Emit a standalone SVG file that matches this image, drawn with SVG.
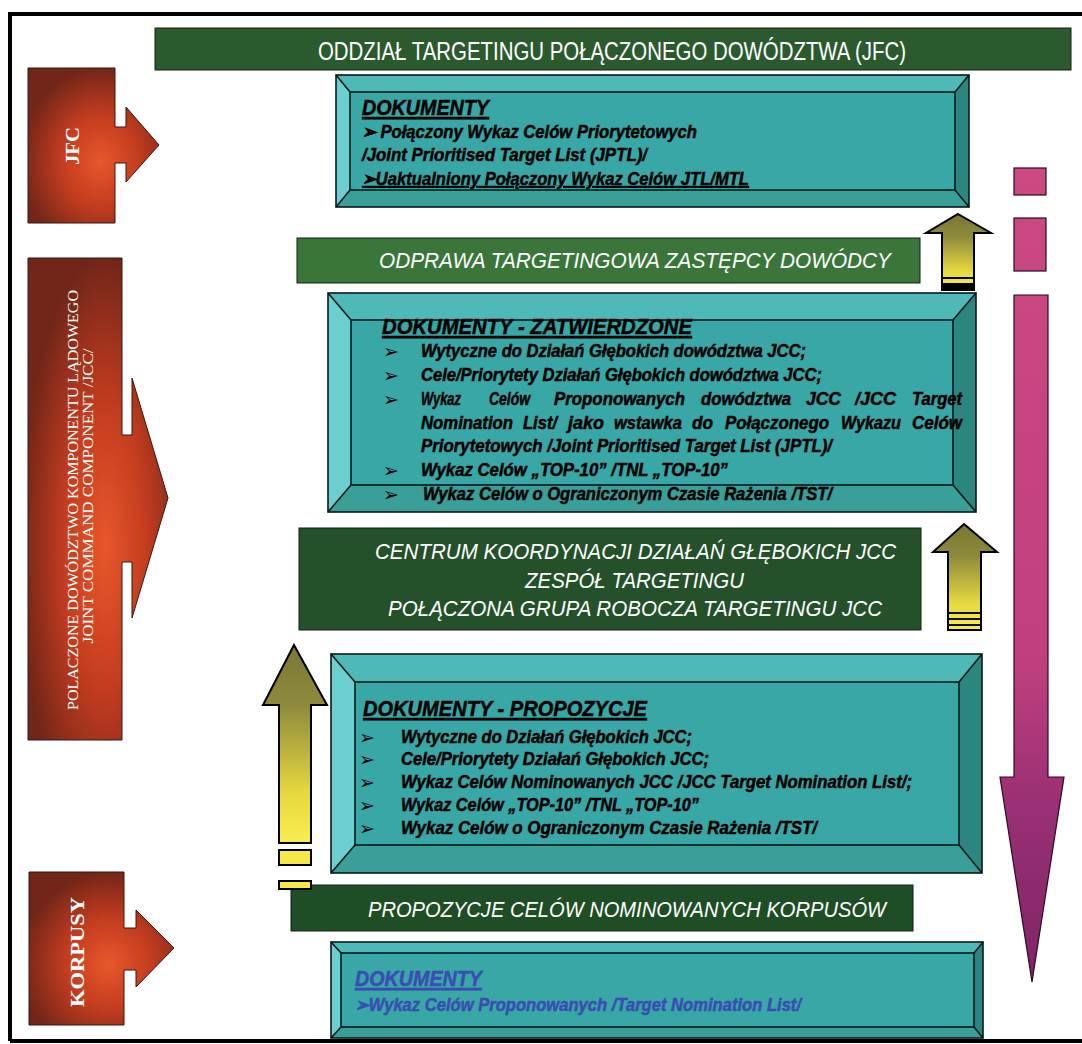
<svg xmlns="http://www.w3.org/2000/svg" width="1082" height="1044" viewBox="0 0 1082 1044">
<defs>
<radialGradient id="red" cx="0.55" cy="0.6" r="0.6">
<stop offset="0" stop-color="#e8572b"/>
<stop offset="0.5" stop-color="#c23c1f"/>
<stop offset="1" stop-color="#722619"/>
</radialGradient>
<linearGradient id="yel" x1="0" y1="0" x2="0" y2="1">
<stop offset="0" stop-color="#7a7634"/>
<stop offset="0.3" stop-color="#8e8a3c"/>
<stop offset="0.75" stop-color="#e6d840"/>
<stop offset="1" stop-color="#f8ee50"/>
</linearGradient>
<linearGradient id="mag" gradientUnits="userSpaceOnUse" x1="0" y1="168" x2="0" y2="982">
<stop offset="0" stop-color="#cc4a82"/>
<stop offset="0.6" stop-color="#c0407e"/>
<stop offset="0.78" stop-color="#9a3074"/>
<stop offset="1" stop-color="#7e2466"/>
</linearGradient>
<style>
.bt{fill:#4fb9b8}.bl{fill:#6ccfcf}.br{fill:#2b8680}.bb{fill:#3a9e99}.bf{fill:#38a7a6}
.bo{fill:none;stroke:#0a1a1a;stroke-width:1.6}
.doc{font-family:"Liberation Sans",Arial,sans-serif;font-weight:bold;font-style:italic;font-size:18px;fill:#000;stroke:#000;stroke-width:0.5}
.hdr{font-size:22px;text-decoration:underline}
.blt{font-family:"DejaVu Sans",sans-serif;font-size:19px;font-weight:bold;fill:#000}
.ban{font-family:"Liberation Sans",Arial,sans-serif;fill:#fff;font-size:22px;font-style:italic}
.side{font-family:"Liberation Serif","Times New Roman",serif;fill:#fff}
.gb{stroke:#102010;stroke-width:1}
.arr{fill:url(#red);stroke:#3a160e;stroke-width:1}
.ya{fill:url(#yel);stroke:#000;stroke-width:2}
.mg{fill:url(#mag);stroke:#2a0a20;stroke-width:1.2}
.blue{fill:#3a4db2;stroke:#3a4db2}
</style>
</defs>
<rect width="1082" height="1044" fill="#fff"/>
<path d="M10,1041 V14 H1082 M10,1041 H1082" fill="none" stroke="#000" stroke-width="4"/>

<g id="banner-top">
<rect x="155" y="28" width="916" height="42" fill="#2c5a2f" class="gb"/>
<text x="318" y="60" font-family="Liberation Sans, Arial, sans-serif" font-size="25" fill="#fff" textLength="588" lengthAdjust="spacingAndGlyphs">ODDZIAŁ TARGETINGU POŁĄCZONEGO DOWÓDZTWA (JFC)</text>
</g>

<g id="jfc">
<path class="arr" d="M28,68 H115 V127 H126 V107 L159,145 L126,182 V163 H115 V223 H28 Z"/>
<text class="side" transform="translate(73,146) rotate(-90)" text-anchor="middle" dominant-baseline="central" font-size="18" font-weight="bold" textLength="38" lengthAdjust="spacingAndGlyphs">JFC</text>
</g>

<g id="jcc">
<path class="arr" d="M28,258 H122 V435 H132 V378 L168,498 L132,618 V562 H122 V740 H28 Z"/>
<text class="side" transform="translate(73,500) rotate(-90)" text-anchor="middle" dominant-baseline="central" font-size="14" fill="#f6e8de" textLength="420" lengthAdjust="spacingAndGlyphs">POLACZONE DOWÓDZTWO KOMPONENTU LĄDOWEGO</text>
<text class="side" transform="translate(88,496) rotate(-90)" text-anchor="middle" dominant-baseline="central" font-size="14" fill="#f6e8de" textLength="295" lengthAdjust="spacingAndGlyphs">JOINT COMMAND COMPONENT /JCC/</text>
</g>

<g id="korpusy">
<path class="arr" d="M29,872 H124 V928 H136 V910 L174,948 L136,987 V970 H124 V1025 H29 Z"/>
<text class="side" transform="translate(77,952) rotate(-90)" text-anchor="middle" dominant-baseline="central" font-size="19" font-weight="bold" textLength="110" lengthAdjust="spacingAndGlyphs">KORPUSY</text>
</g>

<g id="doc-jfc">
<polygon class="bt" points="336,75 969,75 955,92 350,92"/>
<polygon class="bl" points="336,75 350,92 350,190 336,207"/>
<polygon class="br" points="969,75 969,207 955,190 955,92"/>
<polygon class="bb" points="336,207 350,190 955,190 969,207"/>
<rect class="bf" x="350" y="92" width="605" height="98"/>
<rect class="bo" x="336" y="75" width="633" height="132"/>
<rect class="bo" x="350" y="92" width="605" height="98"/>
<path class="bo" d="M336,75 L350,92 M969,75 L955,92 M336,207 L350,190 M969,207 L955,190"/>
<text class="doc hdr" x="362" y="115" textLength="127" lengthAdjust="spacingAndGlyphs">DOKUMENTY</text>
<text class="doc" x="362" y="138" textLength="335" lengthAdjust="spacingAndGlyphs">➢ Połączony Wykaz Celów Priorytetowych</text>
<text class="doc" x="362" y="161" textLength="285" lengthAdjust="spacingAndGlyphs">/Joint Prioritised Target List  (JPTL)/</text>
<text class="doc" x="362" y="185" text-decoration="underline" textLength="387" lengthAdjust="spacingAndGlyphs">➢Uaktualniony Połączony Wykaz Celów JTL/MTL</text>
</g>

<g id="banner-odprawa">
<rect x="297" y="238" width="623" height="45" fill="#3a763a" class="gb"/>
<text class="ban" x="379" y="268" textLength="512" lengthAdjust="spacingAndGlyphs">ODPRAWA TARGETINGOWA  ZASTĘPCY DOWÓDCY</text>
</g>

<g id="doc-zatwierdzone">
<polygon class="bt" points="328,293 976,293 953,320 351,320"/>
<polygon class="bl" points="328,293 351,320 351,485 328,512"/>
<polygon class="br" points="976,293 976,512 953,485 953,320"/>
<polygon class="bb" points="328,512 351,485 953,485 976,512"/>
<rect class="bf" x="351" y="320" width="602" height="165"/>
<rect class="bo" x="328" y="293" width="648" height="219"/>
<rect class="bo" x="351" y="320" width="602" height="165"/>
<path class="bo" d="M328,293 L351,320 M976,293 L953,320 M328,512 L351,485 M976,512 L953,485"/>
<text class="doc hdr" x="382" y="334" font-size="21" textLength="310" lengthAdjust="spacingAndGlyphs">DOKUMENTY - ZATWIERDZONE</text>
<text class="blt" x="383" y="358">➢</text>
<text class="blt" x="383" y="382">➢</text>
<text class="blt" x="383" y="406">➢</text>
<text class="blt" x="383" y="477">➢</text>
<text class="blt" x="383" y="501">➢</text>
<text class="doc" x="421" y="357" textLength="385" lengthAdjust="spacingAndGlyphs">Wytyczne do Działań Głębokich dowództwa JCC;</text>
<text class="doc" x="421" y="381" textLength="401" lengthAdjust="spacingAndGlyphs">Cele/Priorytety Działań Głębokich dowództwa JCC;</text>
<g class="doc">
<text x="421" y="405" textLength="40" lengthAdjust="spacingAndGlyphs">Wykaz</text>
<text x="489" y="405" textLength="41" lengthAdjust="spacingAndGlyphs">Celów</text>
<text x="554" y="405" textLength="131" lengthAdjust="spacingAndGlyphs">Proponowanych</text>
<text x="701" y="405" textLength="90" lengthAdjust="spacingAndGlyphs">dowództwa</text>
<text x="806" y="405" textLength="35" lengthAdjust="spacingAndGlyphs">JCC</text>
<text x="855" y="405" textLength="41" lengthAdjust="spacingAndGlyphs">/JCC</text>
<text x="912" y="405" textLength="50" lengthAdjust="spacingAndGlyphs">Target</text>
<text x="421" y="429" textLength="92" lengthAdjust="spacingAndGlyphs">Nomination</text>
<text x="523" y="429" textLength="34" lengthAdjust="spacingAndGlyphs">List/</text>
<text x="568" y="429" textLength="36" lengthAdjust="spacingAndGlyphs">jako</text>
<text x="614" y="429" textLength="68" lengthAdjust="spacingAndGlyphs">wstawka</text>
<text x="692" y="429" textLength="21" lengthAdjust="spacingAndGlyphs">do</text>
<text x="725" y="429" textLength="104" lengthAdjust="spacingAndGlyphs">Połączonego</text>
<text x="841" y="429" textLength="60" lengthAdjust="spacingAndGlyphs">Wykazu</text>
<text x="912" y="429" textLength="50" lengthAdjust="spacingAndGlyphs">Celów</text>
</g>
<text class="doc" x="421" y="452" textLength="411" lengthAdjust="spacingAndGlyphs">Priorytetowych /Joint Prioritised Target List  (JPTL)/</text>
<text class="doc" x="421" y="476" textLength="307" lengthAdjust="spacingAndGlyphs">Wykaz Celów „TOP-10” /TNL „TOP-10”</text>
<text class="doc" x="423" y="500" textLength="409" lengthAdjust="spacingAndGlyphs">Wykaz Celów o Ograniczonym Czasie Rażenia /TST/</text>
</g>

<g id="banner-centrum">
<rect x="299" y="528" width="622" height="102" fill="#24502a" class="gb"/>
<text class="ban" x="375" y="559" textLength="521" lengthAdjust="spacingAndGlyphs">CENTRUM KOORDYNACJI  DZIAŁAŃ GŁĘBOKICH JCC</text>
<text class="ban" x="525" y="588" textLength="219" lengthAdjust="spacingAndGlyphs">ZESPÓŁ TARGETINGU</text>
<text class="ban" x="388" y="616" textLength="494" lengthAdjust="spacingAndGlyphs">POŁĄCZONA GRUPA ROBOCZA TARGETINGU JCC</text>
</g>

<g id="doc-propozycje">
<polygon class="bt" points="331,654 982,654 959,682 355,682"/>
<polygon class="bl" points="331,654 355,682 355,845 331,873"/>
<polygon class="br" points="982,654 982,873 959,845 959,682"/>
<polygon class="bb" points="331,873 355,845 959,845 982,873"/>
<rect class="bf" x="355" y="682" width="604" height="163"/>
<rect class="bo" x="331" y="654" width="651" height="219"/>
<rect class="bo" x="355" y="682" width="604" height="163"/>
<path class="bo" d="M331,654 L355,682 M982,654 L959,682 M331,873 L355,845 M982,873 L959,845"/>
<text class="doc hdr" x="363" y="716" font-size="21" textLength="284" lengthAdjust="spacingAndGlyphs">DOKUMENTY - PROPOZYCJE</text>
<text class="blt" x="359" y="744">➢</text>
<text class="blt" x="359" y="766">➢</text>
<text class="blt" x="359" y="789">➢</text>
<text class="blt" x="359" y="812">➢</text>
<text class="blt" x="359" y="835">➢</text>
<text class="doc" x="401" y="743" textLength="291" lengthAdjust="spacingAndGlyphs">Wytyczne do Działań Głębokich JCC;</text>
<text class="doc" x="401" y="765" textLength="308" lengthAdjust="spacingAndGlyphs">Cele/Priorytety Działań Głębokich JCC;</text>
<text class="doc" x="401" y="788" textLength="511" lengthAdjust="spacingAndGlyphs">Wykaz Celów Nominowanych JCC /JCC Target Nomination List/;</text>
<text class="doc" x="401" y="811" textLength="298" lengthAdjust="spacingAndGlyphs">Wykaz Celów „TOP-10” /TNL „TOP-10”</text>
<text class="doc" x="401" y="834" textLength="416" lengthAdjust="spacingAndGlyphs">Wykaz Celów o Ograniczonym Czasie Rażenia /TST/</text>
</g>

<g id="banner-propozycje">
<rect x="291" y="885" width="622" height="46" fill="#1f4d25" class="gb"/>
<text class="ban" x="368" y="917" textLength="518" lengthAdjust="spacingAndGlyphs">PROPOZYCJE CELÓW NOMINOWANYCH KORPUSÓW</text>
</g>

<g id="doc-korpusy">
<polygon class="bt" points="331,942 983,942 974,953 341,953"/>
<polygon class="bl" points="331,942 341,953 341,1027 331,1038"/>
<polygon class="br" points="983,942 983,1038 974,1027 974,953"/>
<polygon class="bb" points="331,1038 341,1027 974,1027 983,1038"/>
<rect class="bf" x="341" y="953" width="633" height="74"/>
<rect class="bo" x="331" y="942" width="652" height="96"/>
<rect class="bo" x="341" y="953" width="633" height="74"/>
<path class="bo" d="M331,942 L341,953 M983,942 L974,953 M331,1038 L341,1027 M983,1038 L974,1027"/>
<text class="doc hdr blue" x="355" y="986" font-size="21" textLength="127" lengthAdjust="spacingAndGlyphs">DOKUMENTY</text>
<text class="doc blue" x="355" y="1011" font-size="17" stroke-width="0.2" textLength="446" lengthAdjust="spacingAndGlyphs">➢Wykaz Celów Proponowanych /Target Nomination List/</text>
</g>

<g id="connectors">
<path class="ya" d="M958,214 L991,233 H974 V290 H942 V233 H926 Z"/>
<line x1="942" y1="278" x2="974" y2="278" stroke="#000" stroke-width="2"/>
<rect x="942" y="283" width="32" height="7" fill="#000"/>
<path class="ya" d="M964,524 L997,552 H981 V630 H948 V552 H933 Z"/>
<path d="M948,613 H981 M948,619 H981 M948,625 H981" stroke="#111" stroke-width="2"/>
<path class="ya" d="M294,645 L327,705 H311 V843 H279 V705 H263 Z"/>
<rect x="279" y="850" width="32" height="15" fill="#f6e84a" stroke="#000" stroke-width="2"/>
<rect x="279" y="881" width="32" height="8" fill="#f6e84a" stroke="#000" stroke-width="2"/>
<rect class="mg" x="1014" y="168" width="32" height="27"/>
<rect class="mg" x="1014" y="218" width="32" height="53"/>
<path class="mg" d="M1014,295 H1048 V777 H1064 L1032,982 L1000,777 H1014 Z"/>
</g>
</svg>
